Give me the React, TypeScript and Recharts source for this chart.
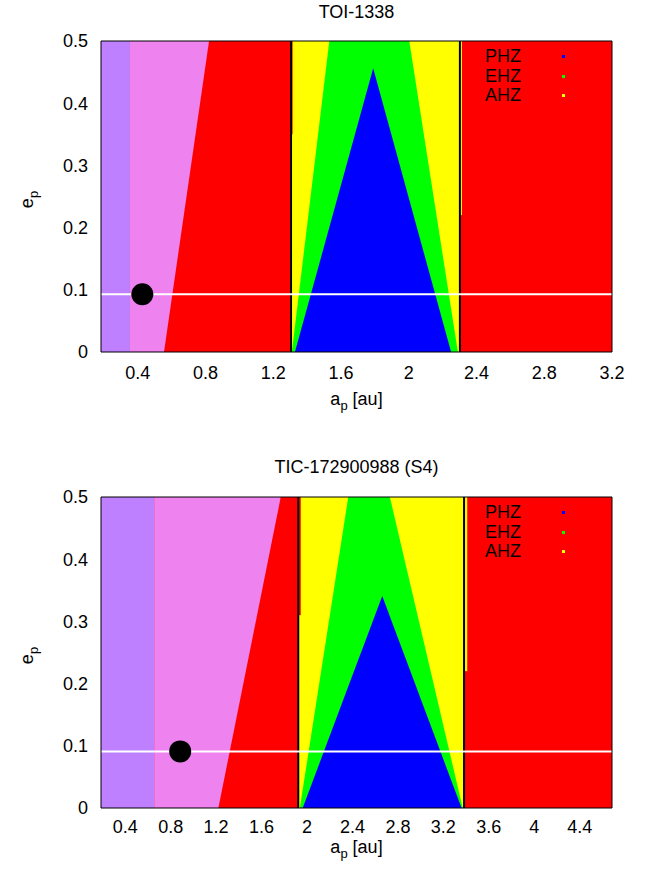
import { Area, ComposedChart, Legend, Line, Scatter, XAxis, YAxis } from "recharts";

const FONT = "'Liberation Sans', Arial, Helvetica, sans-serif";

const PURPLE = "#bf80ff";
const VIOLET = "#ee82ee";
const RED = "#ff0000";
const YELLOW = "#ffff00";
const GREEN = "#00ff00";
const BLUE = "#0000ff";

const E_MAX = 0.5;
const Y_TICKS = [0, 0.1, 0.2, 0.3, 0.4, 0.5];
const ZONE_NAMES = ["PHZ", "EHZ", "AHZ"];
const ZONE_COLORS = [BLUE, GREEN, YELLOW];

// TOI-1338  (a in au, e)
const TOI_DOMAIN = [0.183, 3.2];
const TOI_TICKS = [0.4, 0.8, 1.2, 1.6, 2, 2.4, 2.8, 3.2];
const TOI_PURPLE_EDGE = 0.354;
const TOI_VIOLET_EDGE = 0.821;
const TOI_RED_WEDGE = [[0.555, 0], [0.821, 0.5], [1.305, 0.5]];
const TOI_HZ_EDGES = [1.305, 2.302];
const TOI_EHZ = [[1.31, 0], [1.531, 0.5], [2.003, 0.5], [2.29, 0]];
const TOI_PHZ = [[1.328, 0], [1.79, 0.456], [2.25, 0]];
const TOI_RED_SLIVER = [1.305, 1.314, 0.35];
const TOI_YELLOW_SLIVER = [2.302, 2.314, 0.22];
const TOI_PLANET = [0.427, 0.093];

// TIC-172900988 (S4)
const TIC_DOMAIN = [0.187, 4.684];
const TIC_TICKS = [0.4, 0.8, 1.2, 1.6, 2, 2.4, 2.8, 3.2, 3.6, 4, 4.4];
const TIC_PURPLE_EDGE = 0.655;
const TIC_VIOLET_EDGE = 1.769;
const TIC_RED_WEDGE = [[1.22, 0], [1.769, 0.5], [1.923, 0.5]];
const TIC_HZ_EDGES = [1.923, 3.382];
const TIC_EHZ = [[1.937, 0], [2.363, 0.5], [2.729, 0.5], [3.37, 0]];
const TIC_PHZ = [[1.962, 0], [2.662, 0.341], [3.36, 0]];
const TIC_RED_SLIVER = [1.923, 1.945, 0.31];
const TIC_YELLOW_SLIVER = [3.382, 3.41, 0.22];
const TIC_PLANET = [0.884, 0.091];

const pts = (list: number[][]) => list.map(([a, e]) => ({ a, e }));
const rect = (a0: number, a1: number, lo = 0, hi = E_MAX) => [
  { a: a0, e: [lo, hi] },
  { a: a1, e: [lo, hi] },
];

function ZoneLegend() {
  return (
    <div style={{ fontFamily: FONT, fontSize: 18, lineHeight: "19.6px", color: "#000" }}>
      {ZONE_NAMES.map((name, i) => (
        <div key={name} style={{ display: "flex", alignItems: "center" }}>
          <span style={{ width: 77 }}>{name}</span>
          <span style={{ width: 3, height: 3, background: ZONE_COLORS[i] }} />
        </div>
      ))}
    </div>
  );
}

const xTitle = (dy: number) => (props: any) => {
  const { x, y, width } = props.viewBox;
  return (
    <text x={x + width / 2} y={y + dy} textAnchor="middle" fontFamily={FONT} fontSize={18} fill="#000">
      a
      <tspan fontSize={13} dy={5}>p</tspan>
      <tspan dy={-5}>{"\u00a0[au]"}</tspan>
    </text>
  );
};

const yTitle = (props: any) => {
  const { y, height } = props.viewBox;
  const cy = y + height / 2 + 3;
  return (
    <text x={33} y={cy} transform={`rotate(-90 33 ${cy})`} textAnchor="middle" fontFamily={FONT} fontSize={18} fill="#000">
      e
      <tspan fontSize={13} dy={5}>p</tspan>
    </text>
  );
};

interface PanelProps {
  top: number;
  height: number;
  plotTop: number;
  plotBottom: number;
  title: string;
  titleBaseline: number;
  domain: number[];
  ticks: number[];
  purpleEdge: number;
  violetEdge: number;
  redWedge: number[][];
  hzEdges: number[];
  ehz: number[][];
  phz: number[][];
  redSliver: number[];
  yellowSliver: number[];
  planet: number[];
  tickGap: number;
  xTitleDy: number;
  legendTop: number;
}

function Panel(p: PanelProps) {
  const [x0, x1] = p.domain;
  const xAxisH = 40;
  const margin = { top: p.plotTop, right: 42, left: 0, bottom: p.height - p.plotBottom - xAxisH };
  const area = (data: any[], fill: string, key: string) => (
    <Area
      key={key}
      data={data}
      dataKey="e"
      type="linear"
      stroke="none"
      fill={fill}
      fillOpacity={1}
      dot={false}
      activeDot={false}
      isAnimationActive={false}
    />
  );
  const vline = (a: number, key: string) => (
    <Line
      key={key}
      data={pts([[a, 0], [a, E_MAX]])}
      dataKey="e"
      stroke="#000"
      strokeWidth={2}
      dot={false}
      activeDot={false}
      isAnimationActive={false}
    />
  );
  return (
    <div style={{ position: "absolute", left: 0, top: p.top, width: 654, height: p.height }}>
      <div
        style={{
          position: "absolute",
          left: 101,
          width: 511,
          top: p.titleBaseline - 15.2,
          fontFamily: FONT,
          fontSize: 18,
          lineHeight: "18px",
          textAlign: "center",
          color: "#000",
        }}
      >
        {p.title}
      </div>
      <ComposedChart width={654} height={p.height} margin={margin}>
        <XAxis
          type="number"
          dataKey="a"
          domain={[x0, x1]}
          ticks={p.ticks}
          interval={0}
          height={xAxisH}
          axisLine={false}
          tickLine={false}
          tickSize={p.tickGap - 2}
          tickMargin={2}
          tick={{ fontSize: 18, fill: "#000", fontFamily: FONT }}
          label={xTitle(p.xTitleDy)}
        />
        <YAxis
          type="number"
          dataKey="e"
          domain={[0, E_MAX]}
          ticks={Y_TICKS}
          interval={0}
          width={101}
          axisLine={false}
          tickLine={false}
          tickSize={11}
          tickMargin={2}
          tick={{ fontSize: 18, fill: "#000", fontFamily: FONT }}
          label={yTitle}
        />
        {area(rect(x0, x1), RED, "bg")}
        {area(rect(x0, p.purpleEdge), PURPLE, "purple")}
        {area(rect(p.purpleEdge, p.violetEdge), VIOLET, "violet")}
        {area(pts(p.redWedge), RED, "wedge")}
        {area(rect(p.hzEdges[0], p.hzEdges[1]), YELLOW, "ahz")}
        {area(rect(p.redSliver[0], p.redSliver[1], p.redSliver[2]), RED, "redSliver")}
        {area(rect(p.yellowSliver[0], p.yellowSliver[1], p.yellowSliver[2]), YELLOW, "yellowSliver")}
        {area(pts(p.ehz), GREEN, "ehz")}
        {area(pts(p.phz), BLUE, "phz")}
        {vline(p.hzEdges[0], "edge0")}
        {vline(p.hzEdges[1], "edge1")}
        <Line
          data={pts([[x0, p.planet[1]], [x1, p.planet[1]]])}
          dataKey="e"
          stroke="#fff"
          strokeWidth={2}
          dot={false}
          activeDot={false}
          isAnimationActive={false}
        />
        <Line
          data={pts([[x0, 0], [x1, 0], [x1, E_MAX], [x0, E_MAX], [x0, 0]])}
          dataKey="e"
          stroke="#000"
          strokeWidth={1}
          dot={false}
          activeDot={false}
          isAnimationActive={false}
        />
        <Scatter
          data={pts([p.planet])}
          dataKey="e"
          isAnimationActive={false}
          shape={(s: any) => <circle cx={s.cx} cy={s.cy} r={11} fill="#000" />}
        />
        <Legend
          content={<ZoneLegend />}
          layout="vertical"
          align="center"
          verticalAlign="middle"
          wrapperStyle={{ left: 485, top: p.legendTop, width: 100 }}
        />
      </ComposedChart>
    </div>
  );
}

export default function App() {
  return (
    <div style={{ position: "absolute", left: 0, top: 0, width: 654, height: 873, background: "#fff" }}>
      <Panel
        top={0}
        height={436}
        plotTop={41}
        plotBottom={352}
        title="TOI-1338"
        titleBaseline={18.5}
        domain={TOI_DOMAIN}
        ticks={TOI_TICKS}
        purpleEdge={TOI_PURPLE_EDGE}
        violetEdge={TOI_VIOLET_EDGE}
        redWedge={TOI_RED_WEDGE}
        hzEdges={TOI_HZ_EDGES}
        ehz={TOI_EHZ}
        phz={TOI_PHZ}
        redSliver={TOI_RED_SLIVER}
        yellowSliver={TOI_YELLOW_SLIVER}
        planet={TOI_PLANET}
        tickGap={14}
        xTitleDy={53}
        legendTop={47}
      />
      <Panel
        top={436}
        height={437}
        plotTop={61}
        plotBottom={372}
        title="TIC-172900988 (S4)"
        titleBaseline={37.5}
        domain={TIC_DOMAIN}
        ticks={TIC_TICKS}
        purpleEdge={TIC_PURPLE_EDGE}
        violetEdge={TIC_VIOLET_EDGE}
        redWedge={TIC_RED_WEDGE}
        hzEdges={TIC_HZ_EDGES}
        ehz={TIC_EHZ}
        phz={TIC_PHZ}
        redSliver={TIC_RED_SLIVER}
        yellowSliver={TIC_YELLOW_SLIVER}
        planet={TIC_PLANET}
        tickGap={12}
        xTitleDy={45}
        legendTop={67}
      />
    </div>
  );
}
